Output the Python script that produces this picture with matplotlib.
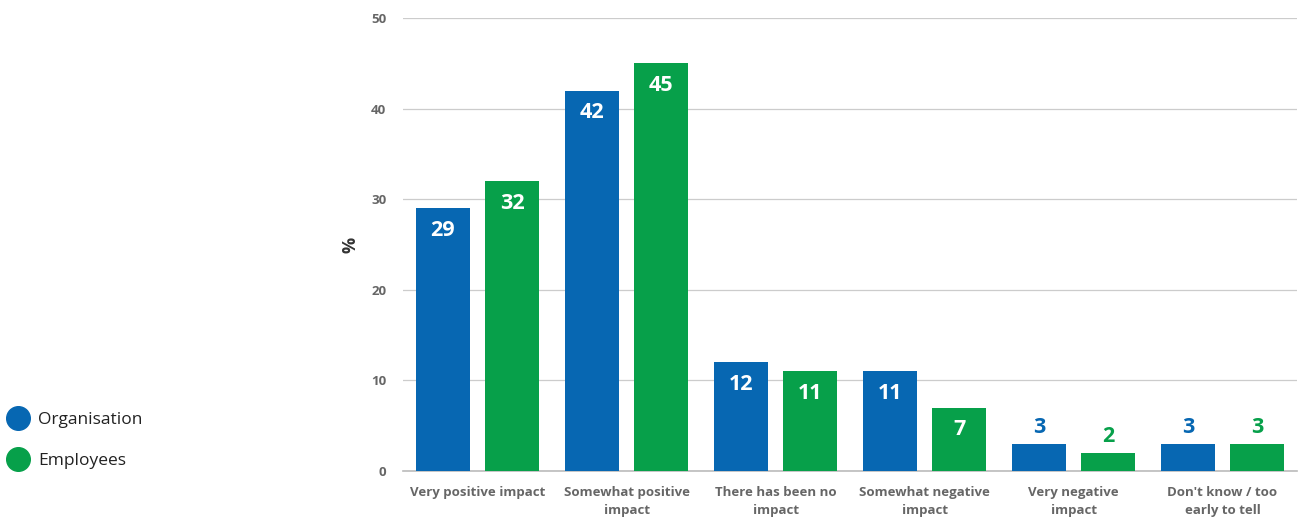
import matplotlib
matplotlib.use("Agg")

import numpy as np
import matplotlib.pyplot as plt
from matplotlib.lines import Line2D

# --- Datos ---
categories = [
    "Very positive impact",
    "Somewhat positive\nimpact",
    "There has been no\nimpact",
    "Somewhat negative\nimpact",
    "Very negative\nimpact",
    "Don't know / too\nearly to tell",
]
organisation = [29, 42, 12, 11, 3, 3]
employees = [32, 45, 11, 7, 2, 3]
series_names = ["Organisation", "Employees"]

BLUE = "#0767B2"
GREEN = "#07A04A"
GREY_TXT = "#666666"

plt.rcParams["font.family"] = ["Open Sans", "DejaVu Sans"]

fig = plt.figure(figsize=(13, 5.17), dpi=100)
ax = fig.add_axes([0.31, 0.089, 0.6877, 0.876])

x = np.arange(len(categories))
width = 0.362
offset = 0.232

bars_o = ax.bar(x - offset, organisation, width, color=BLUE, zorder=3)
bars_e = ax.bar(x + offset, employees, width, color=GREEN, zorder=3)

# Etiquetas de valor: dentro de la barra en blanco, o encima con el color de la serie
for bars, vals, color in ((bars_o, organisation, BLUE), (bars_e, employees, GREEN)):
    for b, v in zip(bars, vals):
        cx = b.get_x() + b.get_width() / 2
        if v >= 5:
            ax.annotate(str(v), (cx, v), xytext=(0, -16), textcoords="offset points",
                        ha="center", va="center", color="white",
                        fontsize=15.5, fontweight="bold", zorder=4)
        else:
            ax.annotate(str(v), (cx, v), xytext=(0, 12), textcoords="offset points",
                        ha="center", va="center", color=color,
                        fontsize=15.5, fontweight="bold", zorder=4)

ax.set_xlim(-0.5, len(categories) - 0.5)
ax.set_ylim(0, 50)
ax.set_yticks(range(0, 51, 10))
ax.yaxis.grid(True, color="#cccccc", linewidth=0.9, zorder=0)
ax.set_axisbelow(True)

for side in ("top", "right", "left"):
    ax.spines[side].set_visible(False)
ax.spines["bottom"].set_color("#bbbbbb")
ax.spines["bottom"].set_linewidth(1.2)

ax.tick_params(axis="y", length=0, pad=12, labelsize=9.5, labelcolor=GREY_TXT)
ax.tick_params(axis="x", length=0, pad=11, labelsize=9.5, labelcolor=GREY_TXT)
for lbl in ax.get_yticklabels():
    lbl.set_fontweight("bold")

ax.set_xticks(x)
ax.set_xticklabels(categories, fontweight="bold", linespacing=1.45, va="top")

ax.set_ylabel("%", fontsize=13, fontweight="bold", color="#333333", labelpad=8)

# Leyenda con marcadores circulares
handles = [
    Line2D([], [], marker="o", linestyle="none", markersize=17, color=BLUE),
    Line2D([], [], marker="o", linestyle="none", markersize=17, color=GREEN),
]
fig.legend(handles, series_names, loc="center left", bbox_to_anchor=(-0.009, 0.148),
           frameon=False, fontsize=12.5, handletextpad=0.35, labelspacing=1.45,
           handlelength=1.6, labelcolor="#222222")

fig.savefig("out.png", dpi=100)
plt.close(fig)
